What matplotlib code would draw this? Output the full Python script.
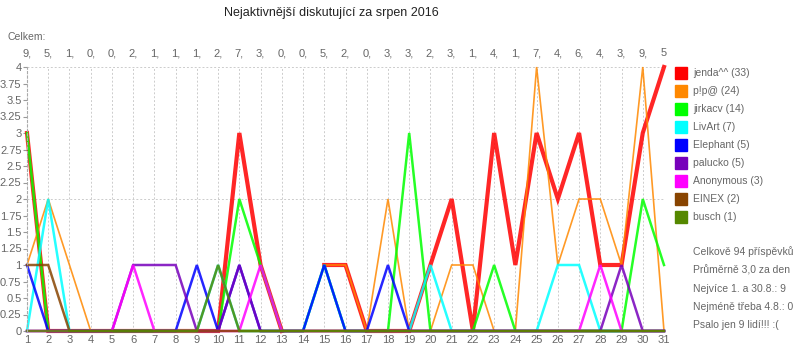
import matplotlib
matplotlib.use("Agg")
import matplotlib.pyplot as plt
import matplotlib.transforms as mtransforms
import numpy as np

plt.rcParams['font.family'] = ['Liberation Sans', 'DejaVu Sans']

nan = np.nan

# dny v srpnu
days = list(range(1, 32))

# celkovy pocet prispevku za den
totals = [9, 5, 1, 0, 0, 2, 1, 1, 1, 2, 7, 3, 0, 0, 5, 2, 0, 3, 3, 2, 3, 1, 4, 1, 7, 4, 6, 4, 3, 9, 5]

names = ["jenda^^", "p!p@", "jirkacv", "LivArt", "Elephant", "palucko", "Anonymous", "EINEX", "busch"]
colors = ["#ff0000", "#ff8800", "#00ff00", "#00ffff", "#0000ff", "#7700bb", "#ff00ff", "#884400", "#558800"]
widths = [3.0, 1.2, 1.8, 1.8, 1.8, 1.8, 1.8, 1.8, 1.8]

jenda = [3, 0, 0, 0, 0, 0, 0, 0, 0, 0, 3, 1, 0, nan, 1, 1, 0, 0, 0, 1, 2, 0, 3, 1, 3, 2, 3, 1, 1, 3, 4]
pipa = [1, 2, 1, 0, 0, 0, 0, 0, 0, 0, 0, 0, 0, nan, 1, 1, 0, 2, 0, 0, 1, 1, 0, 0, 4, 1, 2, 2, 1, 4, 0]
jirkacv = [3, 0, 0, 0, 0, 0, 0, 0, 0, 0, 2, 1, 0, 0, 1, 0, 0, 0, 3, 0, 0, 0, 1, 0, 0, 0, 0, 0, 0, 2, 1]
livart = [0, 2, 0, 0, 0, 0, 0, 0, 0, 1, 0, 0, 0, 0, 1, 0, 0, 0, 0, 1, 0, 0, 0, 0, 0, 1, 1, 0, 0, 0, 0]
elephant = [1, 0, 0, 0, 0, 0, 0, 0, 1, 0, 1, 0, 0, 0, 1, 0, 0, 1, 0, 0, 0, 0, 0, 0, 0, 0, 0, 0, 0, 0, 0]
palucko = [0, 0, 0, 0, 0, 1, 1, 1, 0, 0, 1, 0, 0, 0, 0, 0, 0, 0, 0, 0, 0, 0, 0, 0, 0, 0, 0, 0, 1, 0, 0]
anonymous = [0, 0, 0, 0, 0, 1, 0, 0, 0, 0, 0, 1, 0, 0, 0, 0, 0, 0, 0, 0, 0, 0, 0, 0, 0, 0, 0, 1, 0, 0, 0]
einex = [1, 1, 0, 0, 0, 0, 0, 0, 0, 0, 0, 0, 0, 0, 0, 0, 0, 0, 0, 0, 0, 0, 0, 0, 0, 0, 0, 0, 0, 0, 0]
busch = [0, 0, 0, 0, 0, 0, 0, 0, 0, 1, 0, 0, 0, 0, 0, 0, 0, 0, 0, 0, 0, 0, 0, 0, 0, 0, 0, 0, 0, 0, 0]

series = [jenda, pipa, jirkacv, livart, elephant, palucko, anonymous, einex, busch]

stats = ["Celkově 94 příspěvků", "Průměrně 3,0 za den", "Nejvíce 1. a 30.8.: 9",
         "Nejméně třeba 4.8.: 0", "Psalo jen 9 lidí!!! :("]

gray = "#666666"

fig = plt.figure(figsize=(8, 3.5), dpi=100)
ax = fig.add_axes([27 / 800, 1 - 331 / 350, (664 - 27) / 800, (331 - 67) / 350])

for vals, col, lw in zip(series, colors, widths):
    ax.plot(days, vals, color=col, lw=lw, alpha=0.85, clip_on=False, solid_joinstyle="miter")

ax.set_xlim(1, 31)
ax.set_ylim(0, 4)
ax.set_xticks(days)
ax.set_xticklabels([str(d) for d in days])
yt = np.arange(0, 4.01, 0.25)
ax.set_yticks(yt)
ax.set_yticklabels([f"{v:g}" for v in yt])
ax.tick_params(axis="both", colors="#999999", labelcolor=gray, labelsize=8, length=3, width=0.8, pad=1)
ax.tick_params(axis="x", length=0, pad=3)

for s in ["top", "right", "bottom"]:
    ax.spines[s].set_visible(False)
ax.spines["left"].set_color("#aaaaaa")
ax.spines["left"].set_linestyle((0, (2, 2)))

for d in days[1:]:
    ax.axvline(d, color="#cccccc", lw=0.7, ls=(0, (2, 2)), zorder=0)
for y in [2, 4]:
    ax.axhline(y, color="#cccccc", lw=0.7, ls=(0, (2, 2)), zorder=0)

# souhrn nad grafem
top_row = mtransforms.blended_transform_factory(ax.transData, fig.transFigure)
for i, (d, t) in enumerate(zip(days, totals)):
    lab = str(t) if i == len(days) - 1 else f"{t},"
    ax.text(d, 1 - 53 / 350, lab, transform=top_row, ha="center", va="center",
            fontsize=8, color=gray, clip_on=False)
fig.text(8 / 800, 1 - 37 / 350, "Celkem:", fontsize=7.5, color=gray, va="center", ha="left")

fig.text(331 / 800, 1 - 13 / 350, "Nejaktivnější diskutující za srpen 2016",
         fontsize=9, color="#222222", ha="center", va="center")

# legenda
for i, (n, vals, col) in enumerate(zip(names, series, colors)):
    y = 73 + i * 18
    fig.patches.append(plt.Rectangle((675 / 800, 1 - (y + 6) / 350), 12 / 800, 12 / 350,
                                     transform=fig.transFigure, color=col, figure=fig))
    fig.text(693 / 800, 1 - y / 350, f"{n} ({int(np.nansum(vals))})", fontsize=7.5,
             color=gray, va="center", ha="left")

for i, s in enumerate(stats):
    fig.text(693 / 800, 1 - (252 + i * 18.3) / 350, s, fontsize=7.5, color=gray,
             va="center", ha="left")

fig.savefig("out.png", dpi=100)
